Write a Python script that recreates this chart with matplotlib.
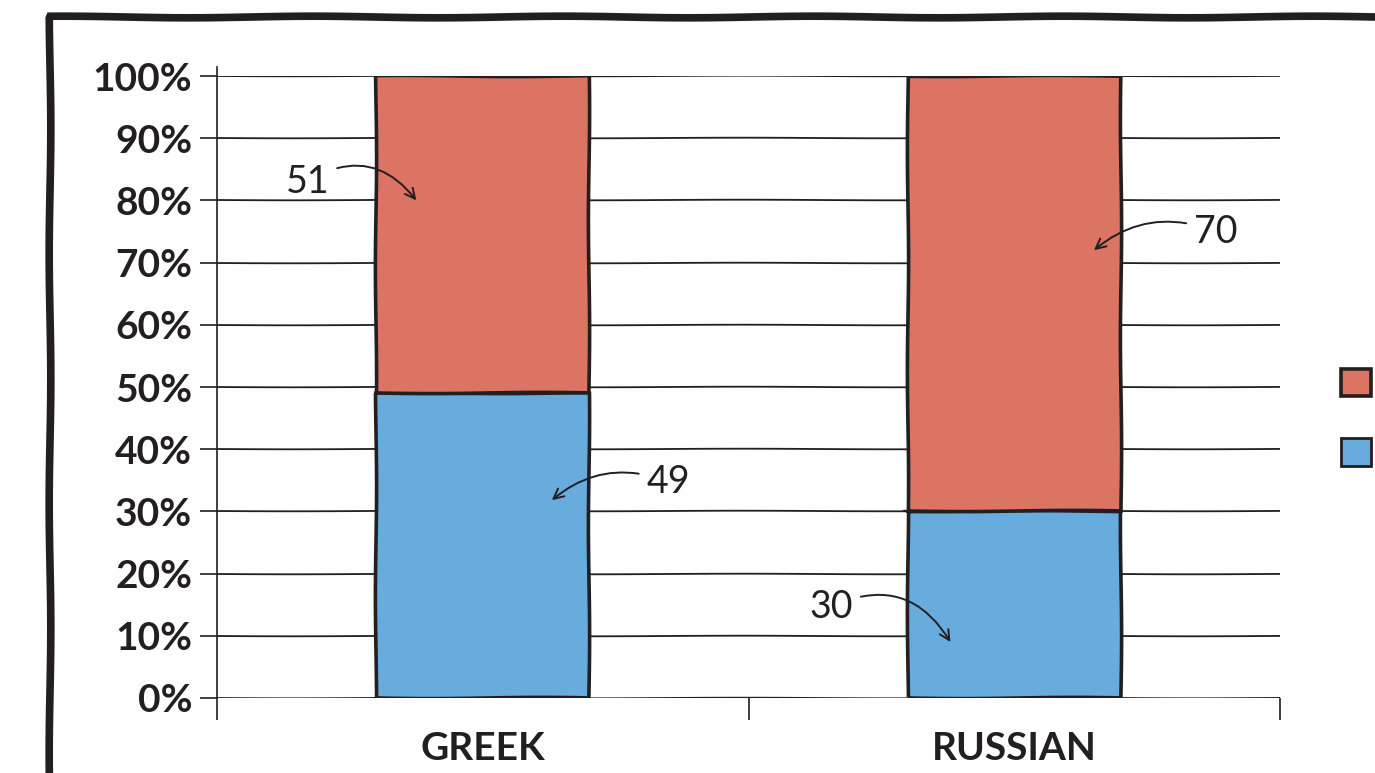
import matplotlib
matplotlib.use("Agg")
import matplotlib.pyplot as plt
from matplotlib.patches import Rectangle, Patch
from matplotlib.ticker import PercentFormatter, FixedLocator

# share of each answer per language
languages = ["GREEK", "RUSSIAN"]
share_blue = [49, 30]
share_red = [51, 70]

RED = "#DB7463"
BLUE = "#68ACDE"
INK = "#231F20"

# label placement: (bar index, segment, text dx, text dy, tip dx, tip dy, curve)
callouts = [
    (0, "red", -0.33, 8.5, -0.125, 5.5, -0.45),
    (0, "blue", 0.35, 10.2, 0.13, 7.3, 0.3),
    (1, "red", 0.38, 9.9, 0.15, 7.0, 0.3),
    (1, "blue", -0.345, -0.4, -0.12, -6.0, -0.45),
]

plt.rcParams["font.family"] = ["Lato", "DejaVu Sans"]

fig = plt.figure(figsize=(13.75, 7.73), dpi=100)
ax = fig.add_axes([217 / 1375, 75 / 773, (1280 - 217) / 1375, (698 - 76) / 773])

sketch = dict(scale=0.6, length=220, randomness=1)

x = range(len(languages))
width = 0.40
bars_b = ax.bar(x, share_blue, width, color=BLUE, edgecolor=INK, linewidth=2.6, zorder=3)
bars_r = ax.bar(x, share_red, width, bottom=share_blue, color=RED, edgecolor=INK,
                linewidth=2.6, zorder=3)
for b in list(bars_b) + list(bars_r):
    b.set_sketch_params(**sketch)

ax.set_xlim(-0.5, 1.5)
ax.set_ylim(0, 100)
ax.yaxis.set_major_locator(FixedLocator(range(0, 101, 10)))
ax.yaxis.set_major_formatter(PercentFormatter(decimals=0))
ax.grid(axis="y", color=INK, linewidth=1.3, zorder=0)
for gl in ax.get_ygridlines():
    gl.set_sketch_params(scale=0.3, length=300, randomness=1)

ax.set_xticks(list(x))
ax.set_xticklabels(languages, fontsize=28, color=INK)
ax.set_xticks([-0.5, 0.5, 1.5], minor=True)
ax.tick_params(axis="x", which="major", length=0, pad=24)
ax.tick_params(axis="x", which="minor", length=16, width=1.2, color=INK, direction="out")
ax.tick_params(axis="y", length=12, width=1.2, color=INK, pad=6, labelsize=28,
               labelcolor=INK)
for lab in ax.get_yticklabels() + ax.get_xticklabels():
    lab.set_fontweight("bold")

for side in ("top", "right", "bottom"):
    ax.spines[side].set_visible(False)
ax.spines["left"].set_linewidth(1.2)
ax.spines["left"].set_color(INK)
ax.spines["left"].set_bounds(0, 101.5)

for i, seg, tdx, tdy, hdx, hdy, rad in callouts:
    if seg == "red":
        val = share_red[i]
        mid = share_blue[i] + share_red[i] / 2
    else:
        val = share_blue[i]
        mid = share_blue[i] / 2
    ax.annotate(str(val), xy=(i + hdx, mid + hdy), xytext=(i + tdx, mid + tdy),
                fontsize=27, color=INK, ha="center", va="center", zorder=5,
                arrowprops=dict(arrowstyle="->", color=INK, lw=1.4,
                                connectionstyle=f"arc3,rad={rad}",
                                shrinkA=4, shrinkB=0, mutation_scale=18))

# legend swatches sit at the right edge of the panel
handles = [Patch(facecolor=RED, edgecolor=INK, linewidth=2.6),
           Patch(facecolor=BLUE, edgecolor=INK, linewidth=2.0)]
fig.legend(handles, ["", ""], loc="center left",
           bbox_to_anchor=(1341 / 1375, 1 - 419 / 773), frameon=False, fontsize=24,
           handlelength=0.9, handleheight=0.9, labelspacing=1.15, borderpad=0,
           borderaxespad=0, handletextpad=0.5)

# heavy frame around the whole panel
frame = Rectangle((50 / 1375, -0.2), 1.2, 0.2 + 1 - 17 / 773, transform=fig.transFigure,
                  fill=False, edgecolor=INK, linewidth=5.5, zorder=10)
frame.set_sketch_params(scale=0.8, length=250, randomness=1)
fig.add_artist(frame)

fig.savefig("out.png", dpi=100)
